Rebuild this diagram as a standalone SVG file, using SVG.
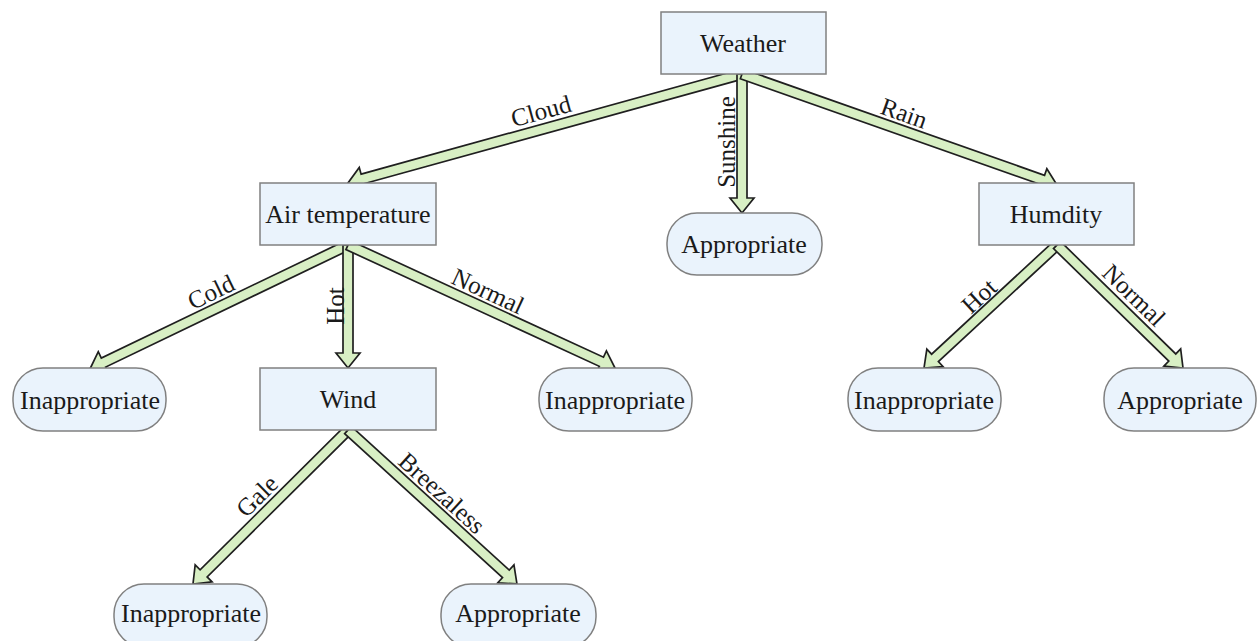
<svg xmlns="http://www.w3.org/2000/svg" width="1258" height="641" viewBox="0 0 1258 641">
<style>
.box{fill:#eaf3fc;stroke:#808080;stroke-width:1.5}
.t{font-family:"Liberation Serif","Times New Roman",serif;font-size:26px;fill:#1a1a1a;text-anchor:middle;dominant-baseline:central}
.l{font-family:"Liberation Serif","Times New Roman",serif;font-size:25px;fill:#1a1a1a;text-anchor:middle;dominant-baseline:central}
.a{fill:#d8efc4;stroke:#1f1f1f;stroke-width:1.7;stroke-linejoin:miter}
</style>
<rect width="1258" height="641" fill="#ffffff"/>
<g id="connectors">
<polygon class="a" transform="translate(742,74) rotate(164.54)" points="0,-5 393.8,-5 393.8,-12 408.8,0 393.8,12 393.8,5 0,5"/>
<polygon class="a" transform="translate(742,74) rotate(90)" points="0,-5 124,-5 124,-12 139,0 124,12 124,5 0,5"/>
<polygon class="a" transform="translate(742,74) rotate(19.41)" points="0,-5 319,-5 319,-12 334,0 319,12 319,5 0,5"/>
<polygon class="a" transform="translate(348,245) rotate(154.33)" points="0,-5 271.3,-5 271.3,-12 286.3,0 271.3,12 271.3,5 0,5"/>
<polygon class="a" transform="translate(348,245) rotate(90)" points="0,-5 108,-5 108,-12 123,0 108,12 108,5 0,5"/>
<polygon class="a" transform="translate(348,245) rotate(24.74)" points="0,-5 279,-5 279,-12 294,0 279,12 279,5 0,5"/>
<polygon class="a" transform="translate(1057,245) rotate(137.23)" points="0,-5 166.2,-5 166.2,-12 181.2,0 166.2,12 166.2,5 0,5"/>
<polygon class="a" transform="translate(1057,245) rotate(44.31)" points="0,-5 161.1,-5 161.1,-12 176.1,0 161.1,12 161.1,5 0,5"/>
<polygon class="a" transform="translate(348,430) rotate(135.19)" points="0,-5 203.5,-5 203.5,-12 218.5,0 203.5,12 203.5,5 0,5"/>
<polygon class="a" transform="translate(348,430) rotate(42.34)" points="0,-5 213.6,-5 213.6,-12 228.6,0 213.6,12 213.6,5 0,5"/>
<text class="l" transform="translate(541,111) rotate(-15.46)">Cloud</text>
<text class="l" transform="translate(726,142) rotate(-90)">Sunshine</text>
<text class="l" transform="translate(904,113) rotate(19.41)">Rain</text>
<text class="l" transform="translate(211,292) rotate(-25.67)">Cold</text>
<text class="l" transform="translate(335,306) rotate(-90)">Hot</text>
<text class="l" transform="translate(488,291) rotate(24.74)">Normal</text>
<text class="l" transform="translate(979,296) rotate(-42.77)">Hot</text>
<text class="l" transform="translate(1134,295) rotate(44.31)">Normal</text>
<text class="l" transform="translate(257,496) rotate(-44.81)">Gale</text>
<text class="l" transform="translate(442,493) rotate(42.34)">Breezaless</text>
</g>
<g id="weather"><rect class="box" x="661" y="12" width="165" height="62"/><text class="t" x="743" y="43">Weather</text></g>
<g id="air-temperature"><rect class="box" x="260" y="183" width="176" height="62"/><text class="t" x="348" y="214">Air temperature</text></g>
<g id="humdity"><rect class="box" x="979" y="183" width="155" height="62"/><text class="t" x="1056" y="214">Humdity</text></g>
<g id="wind"><rect class="box" x="260" y="368" width="176" height="62"/><text class="t" x="348" y="399">Wind</text></g>
<g id="appropriate-sunshine"><rect class="box" x="667" y="213" width="155" height="62" rx="30"/><text class="t" x="744" y="244">Appropriate</text></g>
<g id="inappropriate-cold"><rect class="box" x="13" y="368" width="153" height="63" rx="30"/><text class="t" x="90" y="400">Inappropriate</text></g>
<g id="inappropriate-normal"><rect class="box" x="539" y="368" width="153" height="63" rx="30"/><text class="t" x="615" y="400">Inappropriate</text></g>
<g id="inappropriate-hot"><rect class="box" x="848" y="368" width="153" height="63" rx="30"/><text class="t" x="924" y="400">Inappropriate</text></g>
<g id="appropriate-normal"><rect class="box" x="1104" y="368" width="152" height="63" rx="30"/><text class="t" x="1180" y="400">Appropriate</text></g>
<g id="inappropriate-gale"><rect class="box" x="114" y="584" width="153" height="63" rx="30"/><text class="t" x="191" y="613">Inappropriate</text></g>
<g id="appropriate-breezaless"><rect class="box" x="441" y="584" width="155" height="63" rx="30"/><text class="t" x="518" y="613">Appropriate</text></g>
</svg>
